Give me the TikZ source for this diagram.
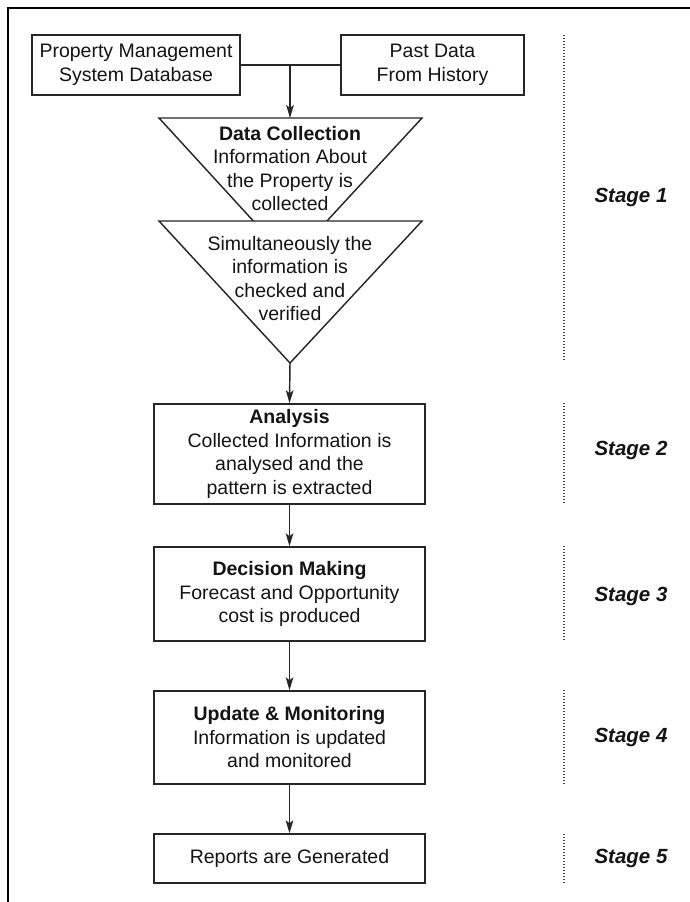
\documentclass[tikz,border=0pt]{standalone}
\usepackage{fontspec}
\setmainfont{Liberation Sans}
\usetikzlibrary{arrows.meta}
\definecolor{ink}{HTML}{141414}
\definecolor{edge}{HTML}{262626}
\definecolor{dots}{HTML}{444444}
\begin{document}
\begin{tikzpicture}[x={(0.5pt,0)},y={(0,-0.5pt)},
  every node/.style={font=\fontsize{9.75pt}{11.75pt}\selectfont, text=ink, inner sep=0pt},
  procbox/.style={draw=edge, line width=0.72pt, fill=white, align=center},
  txt/.style={align=center},
  flow/.style={draw=edge, line width=0.72pt, -{Stealth[length=6.5pt,width=3.8pt,inset=1.5pt]}},
  link/.style={draw=edge, line width=0.72pt},
  stagesep/.style={draw=dots, line width=0.55pt, dash pattern=on 0.5pt off 1pt},
  stagelabel/.style={font=\fontsize{10.25pt}{12pt}\selectfont\bfseries\itshape}
]
\useasboundingbox (0,0) rectangle (690,902);
\fill[white] (0,0) rectangle (690,902);

% outer frame (top and left edges)
\draw[line width=1.25pt, black] (8,902) -- (8,8) -- (690,8);

% data sources
\node[procbox, minimum width=104pt, minimum height=30pt] (pms) at (136,65)
  {Property Management\\System Database};
\node[procbox, minimum width=91.5pt, minimum height=30pt] (past) at (432.5,65)
  {Past Data\\From History};
\coordinate (join) at (290,65);
\draw[link] (pms.east) -- (past.west);

% stage 1: two stacked funnels
\coordinate (t1l) at (159,118);
\coordinate (t1r) at (422,118);
\coordinate (t1a) at (290,261);
\coordinate (t2l) at (159,221);
\coordinate (t2r) at (422,221);
\coordinate (t2a) at (290,363);
\coordinate (t1top) at (290,118);
\draw[edge, line width=0.72pt, fill=white] (t1l) -- (t1r) -- (t1a) -- cycle;
\draw[edge, line width=0.72pt, fill=white] (t2l) -- (t2r) -- (t2a) -- cycle;
\node[txt] (collect) at (290,168.5)
  {\textbf{Data Collection}\\Information About\\the Property is\\collected};
\node[txt] (verify) at (290,278.5)
  {Simultaneously the\\information is\\checked and\\verified};
\draw[flow] (join) -- (t1top);

% stages 2--5
\node[procbox, minimum width=135.5pt, minimum height=50pt] (analysis) at (289.5,454)
  {\textbf{Analysis}\\Collected Information is\\analysed and the\\pattern is extracted};
\node[procbox, minimum width=135.5pt, minimum height=47pt] (decision) at (289.5,594)
  {\textbf{Decision Making}\\Forecast and Opportunity\\cost is produced};
\node[procbox, minimum width=135.5pt, minimum height=46.5pt] (update) at (289.5,737.5)
  {\textbf{Update \& Monitoring}\\Information is updated\\and monitored};
\node[procbox, minimum width=135.5pt, minimum height=24.5pt] (reports) at (289.5,858.5)
  {Reports are Generated};

\draw[flow] (t2a) -- (analysis.north);
\draw[flow] (analysis.south) -- (decision.north);
\draw[flow] (decision.south) -- (update.north);
\draw[flow] (update.south) -- (reports.north);

% stage markers
\draw[stagesep] (564,35) -- (564,362);
\draw[stagesep] (564,403) -- (564,503);
\draw[stagesep] (564,546) -- (564,642);
\draw[stagesep] (564,690) -- (564,785);
\draw[stagesep] (564,834) -- (564,883);
\node[stagelabel] (s1) at (631,197) {Stage 1};
\node[stagelabel] (s2) at (631,450) {Stage 2};
\node[stagelabel] (s3) at (631,596) {Stage 3};
\node[stagelabel] (s4) at (631,737) {Stage 4};
\node[stagelabel] (s5) at (631,858) {Stage 5};
\end{tikzpicture}
\end{document}
